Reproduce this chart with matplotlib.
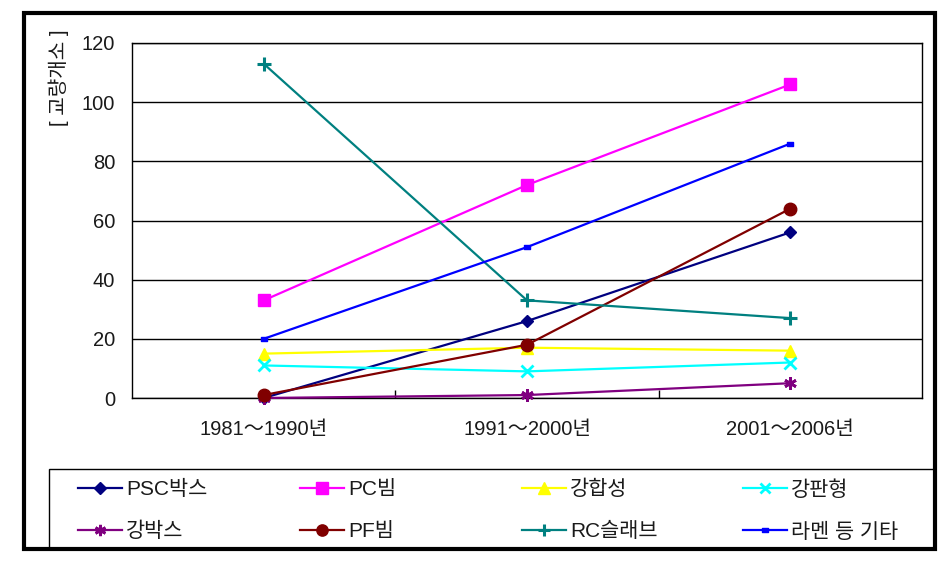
import matplotlib
matplotlib.use("Agg")
import matplotlib.pyplot as plt
from matplotlib.patches import Rectangle
from matplotlib.path import Path

plt.rcParams['font.family'] = ['Liberation Sans', 'Noto Sans CJK KR', 'DejaVu Sans']

categories = ['1981～1990년', '1991～2000년', '2001～2006년']
series_names = ['PSC박스', 'PC빔', '강합성', '강판형', '강박스', 'PF빔', 'RC슬래브', '라멘 등 기타']
psc_box = [0, 26, 56]
pc_beam = [33, 72, 106]
steel_composite = [15, 17, 16]
steel_plate = [11, 9, 12]
steel_box = [0, 1, 5]
pf_beam = [1, 18, 64]
rc_slab = [113, 33, 27]
rahmen_etc = [20, 51, 86]
yticks = [0, 20, 40, 60, 80, 100, 120]

values = [psc_box, pc_beam, steel_composite, steel_plate, steel_box, pf_beam, rc_slab, rahmen_etc]
colors = ['#000080', '#FF00FF', '#FFFF00', '#00FFFF', '#800080', '#800000', '#008080', '#0000FF']
rect_marker = Path([(-1, -0.55), (1, -0.55), (1, 0.55), (-1, 0.55), (-1, -0.55)],
                   [Path.MOVETO, Path.LINETO, Path.LINETO, Path.LINETO, Path.CLOSEPOLY])
styles = [
    dict(marker='D', markersize=6.5),
    dict(marker='s', markersize=9),
    dict(marker='^', markersize=9),
    dict(marker='x', markersize=8, markeredgewidth=2),
    dict(marker=(6, 2, 0), markersize=9, markeredgewidth=2),
    dict(marker='o', markersize=9),
    dict(marker='+', markersize=10, markeredgewidth=2.2),
    dict(marker=rect_marker, markersize=5),
]

W, H = 943, 563
fig = plt.figure(figsize=(W / 100, H / 100), dpi=100)

def fx(px):
    return px / W

def fy(py):
    return 1 - py / H

ax = fig.add_axes([fx(132), fy(398), fx(922) - fx(132), fy(43) - fy(398)])
x = list(range(len(categories)))
handles = []
for name, vals, c, st in zip(series_names, values, colors, styles):
    h, = ax.plot(x, vals, color=c, lw=1.6, markerfacecolor=c, markeredgecolor=c,
                 label=name, clip_on=False, zorder=3, **st)
    handles.append(h)

ax.set_xlim(-0.5, 2.5)
ax.set_ylim(0, 120)
ax.set_yticks(yticks)
ax.set_yticklabels([str(v) for v in yticks], fontsize=14.5, color='#1a1a1a')
ax.set_xticks(x)
ax.set_xticklabels(categories, fontsize=14.5, color='#1a1a1a')
ax.set_xticks([0.5, 1.5], minor=True)
ax.tick_params(axis='x', which='major', length=0, pad=16)
ax.tick_params(axis='x', which='minor', direction='in', length=6, width=1, color='black')
ax.tick_params(axis='y', length=0, pad=12)
ax.grid(axis='y', color='black', lw=1)
for sp in ax.spines.values():
    sp.set_color('black')
    sp.set_linewidth(1)
ax.set_axisbelow(True)

fig.text(fx(59), fy(78), '[ 교량개소 ]', rotation=90, ha='center', va='center',
         fontsize=14.5, color='#1a1a1a')

# outer frame and legend box
fig.patches.append(Rectangle((fx(24), fy(549)), fx(935) - fx(24), fy(13) - fy(549),
                             transform=fig.transFigure, fill=False, lw=3, ec='black', zorder=5))
fig.patches.append(Rectangle((fx(49), fy(549)), fx(935) - fx(49), fy(469) - fy(549),
                             transform=fig.transFigure, fill=False, lw=1, ec='black', zorder=5))

col_x = [78, 300, 522, 743]
for ci in range(4):
    hs = [handles[ci], handles[ci + 4]]
    leg = fig.legend(hs, [h.get_label() for h in hs], loc='upper left',
                     bbox_to_anchor=(fx(col_x[ci]), fy(480)), frameon=False,
                     fontsize=15, handlelength=2.1, handletextpad=0.22,
                     labelspacing=1.1, borderaxespad=0, borderpad=0, markerscale=0.9)
    for t in leg.get_texts():
        t.set_color('#1a1a1a')

fig.savefig('out.png', dpi=100)
